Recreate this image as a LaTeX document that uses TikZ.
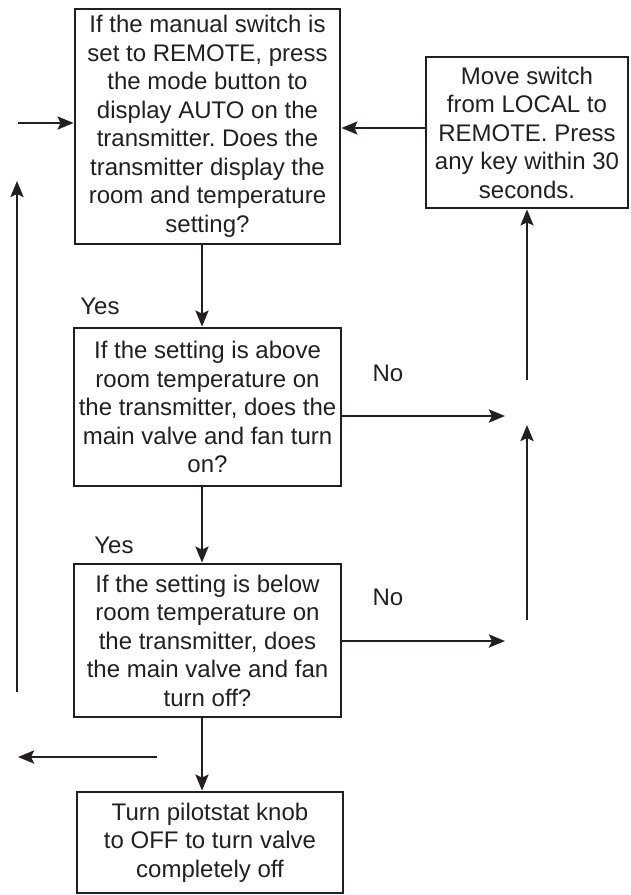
\documentclass[tikz,border=0pt]{standalone}
\usepackage{fontspec}
\setmainfont{Liberation Sans}
\usetikzlibrary{arrows.meta}
\frenchspacing
\definecolor{ink}{RGB}{35,31,32}
\tikzset{
  x=1pt, y=-1pt,
  box/.style={draw=ink, line width=2.8pt, inner sep=0pt, align=center, text=ink,
              font=\fontsize{24}{28.5}\selectfont},
  lbl/.style={text=ink, inner sep=0pt, font=\fontsize{24}{28.5}\selectfont},
  arr/.style={draw=ink, line width=2.6pt, -{Stealth[length=16pt,width=13pt,inset=3pt]}},
  plain/.style={draw=ink, line width=2.6pt}
}
\begin{document}
\begin{tikzpicture}
\useasboundingbox (0,0) rectangle (630,895);
% boxes
\node[box, minimum width=265pt, minimum height=235pt] (b1) at (207.5,126.5)
  {If the manual switch is\\set to REMOTE, press\\the mode button to\\display AUTO on the\\transmitter. Does the\\transmitter display the\\room and temperature\\setting?};
\node[box, minimum width=202pt, minimum height=151pt] (mv) at (527,132.5)
  {Move switch\\from LOCAL to\\REMOTE. Press\\any key within 30\\seconds.};
\node[box, minimum width=267pt, minimum height=158pt] (bA) at (207.5,407)
  {If the setting is above\\room temperature on\\the transmitter, does the\\main valve and fan turn\\on?};
\node[box, minimum width=267pt, minimum height=153pt] (bB) at (207.5,640.5)
  {If the setting is below\\room temperature on\\the transmitter, does\\the main valve and fan\\turn off?};
\node[box, minimum width=266pt, minimum height=101pt] (bC) at (210,842.5)
  {Turn pilotstat knob\\to OFF to turn valve\\completely off};
% labels
\node[lbl] (y1) at (100,306) {Yes};
\node[lbl] (y2) at (114,545) {Yes};
\node[lbl] (n1) at (388,373) {No};
\node[lbl] (n2) at (388,597) {No};
% free-end coordinates
\coordinate (lin) at (18,123);
\coordinate (xa) at (202,0);
\coordinate (rA) at (505,416);
\coordinate (rB) at (505,641);
\coordinate (ru) at (527,380);
\coordinate (rlb) at (527,620);
\coordinate (rlt) at (527,425);
\coordinate (lfs) at (157,757);
\coordinate (lfe) at (18,757);
\coordinate (lvb) at (17,692);
\coordinate (lvt) at (17,181);
% connectors
\draw[arr] (lin) -- (lin -| b1.west);
\draw[arr] ([yshift=4.5pt]mv.west) -- ([yshift=4.5pt]mv.west -| b1.east);
\draw[arr] (b1.south -| xa) -- (bA.north -| xa);
\draw[arr] (bA.east |- rA) -- (rA);
\draw[arr] (ru) -- (mv.south);
\draw[arr] (rlb) -- (rlt);
\draw[arr] (bA.south -| xa) -- (bB.north -| xa);
\draw[arr] (bB.east |- rB) -- (rB);
\draw[arr] (bB.south -| xa) -- (bC.north -| xa);
\draw[arr] (lfs) -- (lfe);
\draw[arr] (lvb) -- (lvt);
\end{tikzpicture}
\end{document}
